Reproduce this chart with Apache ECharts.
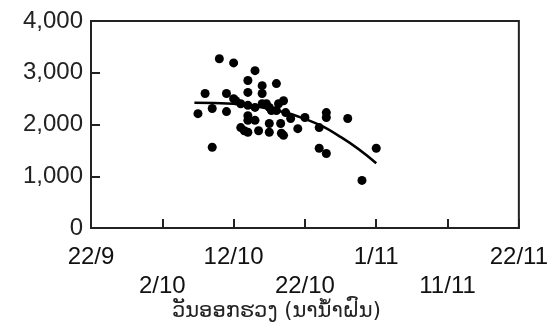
<!DOCTYPE html>
<html>
<head>
<meta charset="utf-8">
<script src="https://cdn.jsdelivr.net/npm/echarts@6/dist/echarts.min.js"></script>
<style>
  html, body { margin: 0; padding: 0; background: #fff; }
  #chart { width: 551px; height: 326px; }
</style>
</head>
<body>
<div id="chart"></div>
<script>
// days counted from 22/9
var xTickLabels = ['22/9', '2/10', '12/10', '22/10', '1/11', '11/11', '22/11'];
var headingDay = [15, 16, 17, 17, 18, 19, 19, 20, 20, 20.3, 21, 21, 21.5, 22, 22, 22, 22, 22, 22,
  23, 23, 23, 23.5, 24, 24, 24, 24.6, 25, 25, 25, 25.3, 26, 26, 26.3, 26.6, 26.7, 27, 27.3, 27,
  28, 29, 30, 32, 32, 33, 33, 33, 36, 38, 40];
var grainYield = [2210, 2600, 2310, 1560, 3270, 2600, 2250, 2500, 3190, 2460, 2400, 1940, 1880, 1850, 2850, 2620, 2370, 2170, 2080,
  3040, 2330, 2080, 1880, 2750, 2600, 2400, 2400, 2330, 2020, 1850, 2270, 2790, 2270, 2400, 2020, 1830, 2460, 2230, 1790,
  2115, 1920, 2135, 1940, 1540, 1440, 2230, 2135, 2115, 920, 1540];
// fitted curve
var trendDay = [14.5, 20, 25, 30, 35, 40];
var trendYield = [2420, 2400, 2300, 2110, 1760, 1250];
var axisTitle = 'ວັນອອກຮວງ (ນານ້ຳຝົນ)';

var myChart = echarts.init(document.getElementById('chart'));

var points = headingDay.map(function (d, i) { return [d, grainYield[i]]; });
var trend = trendDay.map(function (d, i) { return [d, trendYield[i]]; });

var option = {
  backgroundColor: '#fff',
  animation: false,
  grid: {
    left: 91, right: 30, top: 21, bottom: 98,
    show: true,
    borderColor: '#222',
    borderWidth: 2
  },
  xAxis: {
    type: 'value',
    min: 0, max: 60, interval: 10,
    axisLine: { show: true, lineStyle: { color: '#222', width: 2 } },
    axisTick: { show: true, inside: true, length: 9, lineStyle: { color: '#222', width: 2 } },
    splitLine: { show: false },
    axisLabel: {
      margin: 16,
      showMaxLabel: true,
      hideOverlap: false,
      formatter: function (v) {
        var i = Math.round(v / 10);
        var lab = xTickLabels[i];
        return i % 2 ? '{lo|' + lab + '}' : '{hi|' + lab + '}';
      },
      rich: {
        hi: { fontFamily: 'Liberation Sans', fontSize: 24, color: '#111', lineHeight: 26 },
        lo: { fontFamily: 'Liberation Sans', fontSize: 24, color: '#111', lineHeight: 26, padding: [58, 0, 0, 0] }
      }
    }
  },
  yAxis: {
    type: 'value',
    min: 0, max: 4000, interval: 1000,
    axisLine: { show: true, lineStyle: { color: '#222', width: 2 } },
    axisTick: { show: true, inside: true, length: 9, lineStyle: { color: '#222', width: 2 } },
    splitLine: { show: false },
    axisLabel: {
      margin: 8,
      fontFamily: 'Liberation Sans',
      fontSize: 24,
      color: '#222',
      formatter: function (v) { return v.toLocaleString('en-US'); }
    }
  },
  graphic: [{
    type: 'text',
    left: 172,
    top: 301,
    style: { text: axisTitle, font: '21px "DejaVu Sans"', fill: '#222' }
  }],
  series: [
    {
      type: 'scatter',
      data: points,
      symbolSize: 9,
      itemStyle: { color: '#000', opacity: 1 }
    },
    {
      type: 'line',
      data: trend,
      smooth: true,
      showSymbol: false,
      lineStyle: { color: '#000', width: 2.5 }
    }
  ]
};

myChart.setOption(option);
</script>
</body>
</html>
